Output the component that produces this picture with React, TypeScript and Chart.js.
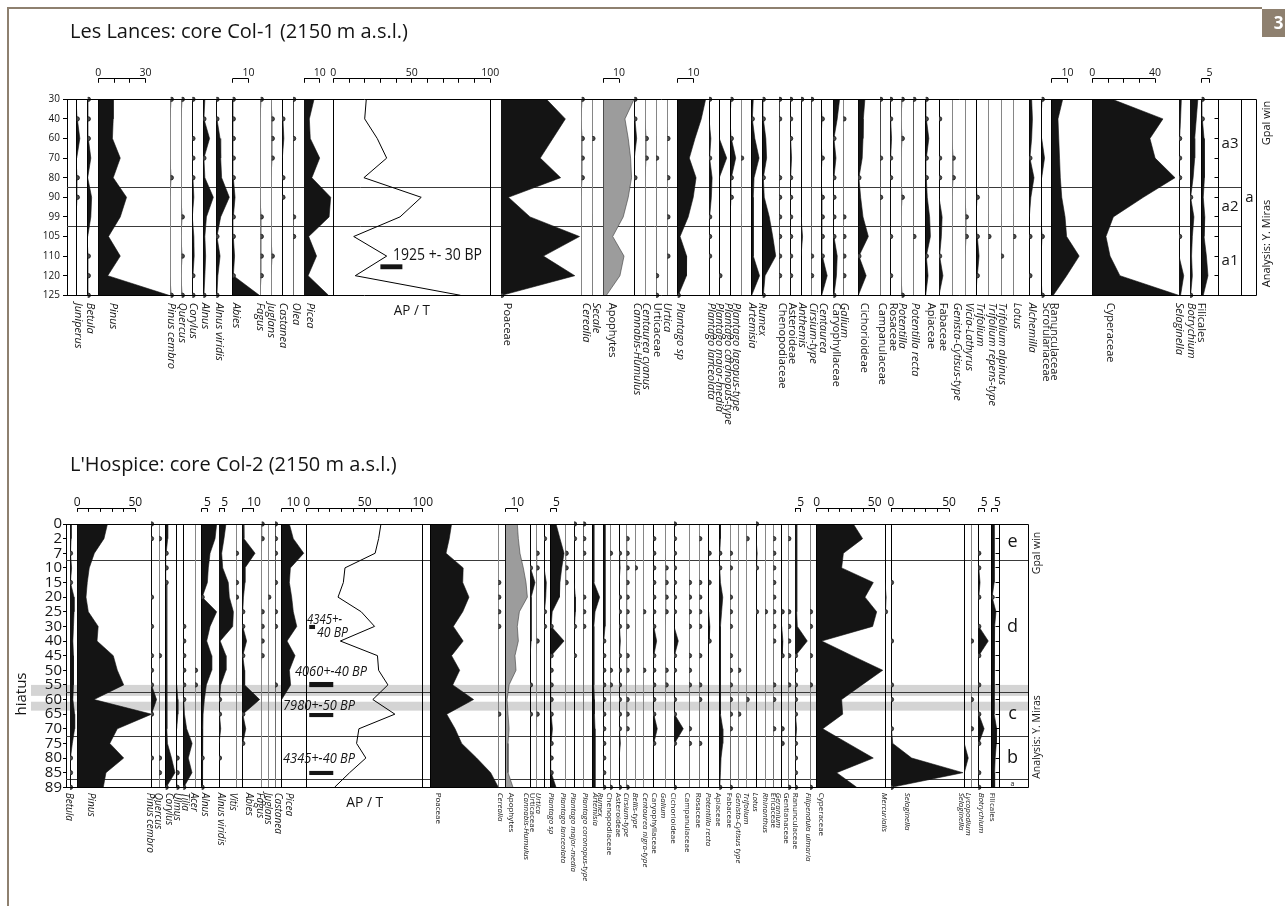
import React, { useEffect, useRef } from "react";
import { Chart, registerables } from "chart.js";

Chart.register(...registerables);

const tr = 0.4; // trace presence (drawn as a dot)

// ================= Les Lances: core Col-1 =================
const lancesDepths = ["30", "40", "60", "70", "80", "90", "99", "105", "110", "120", "125"];
const lancesTaxa = [
  "Juniperus", "Betula", "Pinus", "Pinus cembro", "Quercus", "Corylus", "Alnus", "Alnus viridis", "Abies",
  "Fagus", "Juglans", "Castanea", "Olea", "Picea", "AP / T", "Poaceae", "Cerealia", "Secale", "Apophytes",
  "Cannabis-Humulus", "Centaurea cyanus", "Urticaceae", "Urtica", "Plantago sp", "Plantago lanceolata",
  "Plantago major-media", "Plantago coronopus-type", "Plantago lagopus-type", "Artemisia", "Rumex",
  "Chenopodiaceae", "Asteroideae", "Anthemis", "Cirsium-type", "Centaurea", "Caryophyllaceae", "Galium",
  "Cichorioideae", "Campanulaceae", "Rosaceae", "Potentilla", "Potentilla recta", "Apiaceae", "Fabaceae",
  "Genista-Cytisus-type", "Vicia-Lathyrus", "Trifolium", "Trifolium repens-type", "Trifolium alpinus", "Lotus",
  "Alchemilla", "Scrofulariaceae", "Ranunculaceae", "Cyperaceae", "Selaginella", "Botrychium", "Filicales",
];
const lancesValues = [
  [0, tr, 2, 0, tr, tr, 0, 0, 0, 0, 0],
  [tr, tr, tr, 2, 0, 2.5, 2, 0, tr, tr, tr],
  [9.5, 9.5, 9, 14, 9.5, 18, 14, 6.5, 14, 6, 45],
  [tr, 0, 0, 0, tr, 0, 0, 0, 0, 0, tr],
  [tr, 0, 0, 0, 0, 0, tr, 0, tr, 0, tr],
  [tr, 0, tr, tr, tr, 1, 0, 1, 1.2, tr, tr],
  [1, tr, 4, tr, 1, 6.4, 2, 1, 1.5, 1, tr],
  [tr, tr, 2.4, 2.8, 3.4, 8.3, 2.8, tr, 2.4, 1, tr],
  [tr, tr, tr, tr, tr, 1.5, tr, tr, 1.2, tr, 17],
  [tr, 0, 0, 0, 0, 0, tr, tr, tr, tr, 0],
  [0, tr, tr, tr, 0, 0, 0, 0, tr, 0, 0],
  [0, tr, 1, 0, tr, tr, 0, 0, 0, 0, 0],
  [tr, 0, tr, 0, 0, 0, tr, tr, 0, 0, 0],
  [6.4, 3.4, 4, 10, 5, 17, 16, 3, 8, 2.6, 15.6],
  [21, 20, 28, 34, 19.5, 56, 42.5, 13, 34, 14, 81],
  [29, 41, 33, 25, 38, 4.7, 18.5, 50, 27, 47, 0.5],
  [tr, 0, tr, tr, tr, 0, 0, 0, 0, 0, 0],
  [0, 0, tr, 0, 0, 0, 0, 0, 0, 0, 0],
  [19.6, 13.8, 15.9, 17.4, 18, 15.9, 12.7, 6, 13.2, 10.6, 2],
  [tr, tr, 1.5, 0, tr, 0, 0, 0, 0, 0, 0],
  [0, 0, tr, tr, 0, 0, 0, 0, 0, 0, 0],
  [0, 0, 0, tr, 0, 0, 0, 0, 0, tr, tr],
  [0, 0, tr, 0, tr, 0, tr, 0, tr, 0, 0],
  [17.8, 15, 11, 7.4, 11.7, 9.9, 6.7, 1.5, 5.7, 5.6, tr],
  [tr, 0, 1.2, tr, 2, 1.5, tr, tr, tr, 0, 0],
  [0, 0, 0, 4.7, 0, 0, 0, 0, 0, tr, 0],
  [tr, 0, tr, 3.2, tr, tr, 0, 0, 0, 0, 0],
  [0, 0, 0, tr, 0, 0, 0, 0, 0, 0, 0],
  [1, tr, 2, 4.7, 1.5, 1, 1, 1, 1, 5, 0],
  [tr, tr, 2, 2.5, tr, 1, 4.2, 6.4, 8.3, 1.5, tr],
  [tr, tr, 0, 0, tr, tr, tr, tr, tr, tr, 0],
  [tr, tr, tr, 1, tr, tr, tr, tr, tr, tr, 0],
  [tr, 0, 0, 0, 0, 0, 0, 1, 0, 0, 0],
  [tr, 0, 0, 0, 0, 0, 0, 0, tr, tr, 0],
  [0, tr, 0, tr, 0, tr, tr, tr, tr, 3.5, 0],
  [4, 2.5, tr, 1.7, tr, tr, tr, tr, 2.5, 2, tr],
  [0, tr, 0, 0, 0, 0, tr, tr, tr, tr, 0],
  [4.2, 3.2, 3, 2.5, tr, 1.5, 3, 6.4, tr, 5, 0],
  [tr, 0, 0, tr, 0, tr, 0, 0, 0, 0, 0],
  [tr, tr, 1, tr, tr, 0, 0, tr, 0, tr, 0],
  [tr, 0, tr, 0, 0, tr, 0, 0, 0, 0, tr],
  [tr, 0, 0, 0, 0, 0, 0, tr, 0, 0, 0],
  [tr, tr, 2, tr, tr, 1, 2.5, 3, tr, 1.5, 0],
  [0, tr, 0, tr, tr, 0, 2, 1.5, tr, 2.5, 0],
  [0, 0, 0, tr, tr, 0, 0, 0, 0, 0, 0],
  [0, 0, 0, 0, 0, 0, tr, tr, 0, 0, 0],
  [0, 0, 0, 0, 0, tr, 0, tr, 1.5, tr, 0],
  [0, 0, 0, 0, 0, 0, 0, tr, 0, 0, 0],
  [0, 0, 0, 0, 0, 0, 0, 0, tr, 0, 0],
  [0, 0, 0, 0, 0, 0, 0, tr, 0, 0, 0],
  [1.5, 2, 1.5, tr, 3, 1, 0, tr, 0, tr, 0],
  [tr, 0, 0, 1.8, 0, 0, 0, tr, 0, 0, tr],
  [7, 4, 4.5, 5, 5.5, 6.4, 8.5, 9.5, 17.5, 9.5, 1],
  [12.7, 45, 36.7, 40, 52.7, 32.5, 13.4, 8.7, 11.3, 17.6, 55],
  [1.5, 1, tr, tr, tr, 0, 0, tr, 0, 3, 1],
  [5, 4, 3, 3, 2, tr, 2.5, 1.5, 1, 1.5, tr],
  [tr, tr, 1.5, 2, 1.5, 1, 2, 1.5, 3, 4, 1],
];
const lancesScaleBars = [
  { taxon: "Pinus", max: 30, step: 10, labels: [0, 30] },
  { taxon: "Abies", max: 10, step: 10, labels: [10] },
  { taxon: "Picea", max: 10, step: 10, labels: [10] },
  { taxon: "AP / T", max: 100, step: 10, labels: [0, 50, 100] },
  { taxon: "Apophytes", max: 10, step: 10, labels: [10] },
  { taxon: "Plantago sp", max: 10, step: 10, labels: [10] },
  { taxon: "Ranunculaceae", max: 10, step: 10, labels: [10] },
  { taxon: "Cyperaceae", max: 40, step: 10, labels: [0, 40] },
  { taxon: "Filicales", max: 5, step: 5, labels: [5] },
];
const lancesDates = [{ text: "1925 +- 30 BP", x: 38, y: 8.2, size: 16, width: 89, italic: false }];
const lancesDateBars = [{ x0: 30, x1: 44, y0: 8.42, y1: 8.67 }];
const lancesZoneBounds = [4.5, 6.5];
const lancesZoneNames = ["a3", "a2", "a1"];

// layout (column baselines / label positions, px)
const lancesColX = [
  76.7, 87.7, 98.3, 170.7, 181.7, 192.3, 203.3, 216.3, 232.7, 260.7, 271.7, 282.3, 293, 304, 333.3, 501,
  581.7, 592.3, 603.3, 634.3, 645.7, 656, 667.3, 677.7, 709, 719.3, 730.7, 741, 751.7, 762.7, 779, 790, 801,
  811, 821.7, 833.3, 843.3, 858.3, 880, 890, 901.7, 913.3, 925.7, 939, 952.7, 965.7, 976.7, 988.3, 1001,
  1013.3, 1029.3, 1041.7, 1051.7, 1092.3, 1179, 1190, 1201.7,
];
const lancesLabelX = [
  78.3, 90, 113, 171, 182.5, 192.7, 205, 218.7, 235.8, 260.3, 270.8, 283.5, 295.8, 310.5, 411, 507, 586, 596,
  612, 637, 646, 657, 667.5, 680, 711, 719.5, 728, 736.5, 752.5, 762, 782, 792, 802.5, 813, 823.5, 836, 844.5,
  864, 882, 893.5, 902.5, 915, 931, 943.5, 957, 969, 980, 992, 1002.5, 1017, 1032, 1046, 1054, 1110,
  1179.5, 1191, 1201.5,
];

// ================= L'Hospice: core Col-2 =================
const hospiceDepths = ["0", "2", "7", "10", "15", "20", "25", "30", "40", "45", "50", "55", "60", "65", "70", "75", "80", "85", "89"];
const hospiceTaxa = [
  "Betula", "Pinus", "Pinus cembro", "Quercus", "Corylus", "Ulmus", "Tilia", "Acer", "Alnus", "Alnus viridis",
  "Vitis", "Abies", "Fagus", "Juglans", "Castanea", "Picea", "AP / T", "Poaceae", "Cerealia", "Apophytes",
  "Cannabis-Humulus", "Urticaceae", "Urtica", "Plantago sp", "Plantago lanceolata", "Plantago major-media",
  "Plantago coronopus-type", "Artemisia", "Rumex", "Chenopodiaceae", "Asteroideae", "Cirsium-type",
  "Bellis-type", "Centaurea nigra-type", "Caryophyllaceae", "Galium", "Cichorioideae", "Campanulaceae",
  "Rosaceae", "Potentilla recta", "Apiaceae", "Fabaceae", "Genista-Cytisus type", "Trifolium", "Lotus",
  "Rhinanthus", "Ericaceae", "Geranium", "Gentianaceae", "Ranunculaceae", "Filipendula ulmaria", "Cyperaceae",
  "Mercurialis", "Selaginella", "Selaginella", "Lycopodium", "Botrychium", "Filicales",
];
const hospiceValues = [
  [1, 1, tr, 1.4, tr, 3.5, 3.5, 3, 2.5, 3, 3, 3, 2.5, 4, 4, 2, tr, tr, tr],
  [26, 23, 14.7, 10.3, 8.6, 7.5, 9.5, 18, 17, 31, 34.5, 40, 14.4, 64, 34.5, 28, 40, 24.7, 22.4],
  [tr, tr, 0, 0, 0, tr, 0, tr, 0, tr, tr, tr, 4.8, tr, 0, 0, tr, 0, 0],
  [0, tr, 0, 0, 0, 0, 0, 0, 0, tr, 0, 0, 0, 0, 0, 0, tr, tr, 0],
  [1.7, 1.7, tr, tr, tr, 1, 1, 1, 1, 1, 1, 1, 1, 1, 1, 1.5, 5, 8, tr],
  [0, 0, 0, 0, 0, 0, 0, 0, 0, 0, 0, 0, 1, 1, 0, 0, tr, tr, tr],
  [0, 0, 0, 0, 0, 0, 0, tr, tr, tr, tr, tr, tr, 1, 2.9, 7.6, 4.3, 7.5, tr],
  [0, 0, 0, 0, 0, 0, 0, 0, 0, 0, tr, tr, 0, 0, 0, 0, 0, 0, 0],
  [12.9, 11.5, 7.2, 5.7, 4.9, tr, 12.9, 7.2, 4.3, 8.6, 8.6, 4, 2.3, 1.2, 1, 1, tr, 1, tr],
  [6, 4.3, 2.3, 3.2, 8, 8.9, 12.4, 11.8, 1, 6, 6, 1.5, tr, tr, 1.5, 0, tr, 0, 0],
  [0, 0, tr, 0, tr, tr, 0, 0, 0, 0, 0, 0, 0, 0, 0, 0, 0, 0, 0],
  [1, 1.4, 11, 2.3, 2.3, 1, tr, tr, 3.7, tr, 2, 2, 15, tr, 3, tr, 0, 0, 0],
  [tr, tr, 0, 0, 0, 0, tr, tr, tr, tr, 0, 0, 0, 0, 0, 0, 0, 0, 0],
  [0, 0, 0, 0, 0, tr, 0, 0, 0, 0, 0, 0, 0, 0, 0, 0, 0, 0, 0],
  [tr, tr, tr, 0, tr, 0, tr, tr, 0, 0, 0, tr, 0, 0, 0, 0, 0, 0, 0],
  [6.6, 10, 19, 7.5, 6.6, 8.6, 10, 13, 4.6, 11.5, 6.6, 7.7, 0, 0, 0, 0, 0, 0, 0],
  [64, 62, 59, 33, 31.6, 27, 47, 58.5, 29, 61, 62, 70, 57, 76, 45, 43, 51, 37, 24],
  [18, 16, 13.2, 28, 27.6, 33, 27.6, 19.5, 28, 18, 25, 19, 37, 13.8, 21, 26.7, 39.6, 51.7, 58.3],
  [0, 0, 0, 0, tr, tr, tr, tr, 0, 0, 0, 0, 0, tr, 0, 0, 0, 0, 0],
  [10, 10.9, 12.3, 15.2, 17.5, 18.7, 11.8, 10, 10.9, 8, 8.9, 2.9, 1.2, 2, 2.9, 2, 2, 2, 6.3],
  [0, 0, 0, tr, 4.3, 1, 1, 1, 1, 0, 0, tr, 0, tr, 0, 0, 0, 0, 0],
  [0, 0, tr, tr, 0, 0, 0, 0, tr, 0, 0, 0, 0, tr, 0, 0, 0, 0, 0],
  [0, tr, 0, 0, 2, 1.5, tr, tr, 0, 0, 0, 0, 0, 0, 0, 0, 0, 0, 0],
  [4.6, 8, 11.5, 9.5, 8, 7.5, 1.3, tr, 11.5, tr, tr, tr, tr, tr, 1.5, tr, tr, tr, 4.6],
  [0, 0, tr, tr, tr, 0, 0, 0, 0, 0, 0, 0, 0, 0, 0, 0, 0, 0, 0],
  [tr, tr, 0, 0, 0, 1.2, 1.2, tr, 0, tr, 0, 0, 0, 0, 0, 0, 0, 0, 0],
  [tr, tr, tr, 0, 0, tr, tr, tr, 0, 0, 0, 0, 0, 0, 0, 0, 0, 0, 0],
  [1, 1, 1, 1, 1, 6, 2, 1, 1, 1, 1, 1, 1.5, 1.5, 2, 2, 2, 2, 2],
  [1.5, 1.5, 1.5, 1.5, 1.5, 1.5, 1.5, 1.5, tr, tr, tr, tr, tr, tr, tr, tr, tr, tr, tr],
  [0, 0, tr, 0, 0, 0, 0, 0, 0, 0, tr, tr, 0, 0, 0, 0, 0, 0, tr],
  [0, 0, tr, 1, 0, tr, tr, tr, 1.2, tr, tr, tr, tr, tr, tr, 1.2, 0, 0, tr],
  [0, tr, tr, tr, tr, tr, tr, tr, 0, tr, tr, 0, tr, tr, tr, 0, 0, 0, tr],
  [0, 0, 0, tr, 0, 0, 0, 0, 0, 0, 0, 0, 0, 0, 0, 0, 0, 0, 0],
  [0, 0, 0, 0, 0, 0, tr, 0, 0, 0, tr, 0, 0, 0, 0, 0, 0, 0, 0],
  [0, tr, tr, tr, tr, tr, tr, tr, 2.9, tr, tr, tr, tr, tr, 3.4, tr, 0, 0, 0],
  [0, 0, 0, tr, tr, tr, tr, 0, 0, 0, tr, tr, 0, 0, 0, 0, 0, 0, 0],
  [tr, tr, tr, tr, tr, tr, tr, 0, 3.7, tr, tr, 0, tr, tr, 8, tr, 0, 0, tr],
  [0, 0, 0, 0, tr, tr, tr, tr, 0, tr, tr, tr, 0, 0, tr, tr, 0, 0, 0],
  [0, tr, 0, 0, tr, tr, tr, tr, 0, tr, 0, tr, tr, 0, 0, tr, 0, 0, 0],
  [0, 0, tr, 0, tr, 0, 0, 1, tr, 0, 0, 0, 0, 0, 0, 0, 0, 0, 0],
  [1, 1, tr, tr, 1, 3, 2, 1, 1, 1, 1, 1, 1, 1, 3, 3, 1.5, 1, tr],
  [0, 0, tr, tr, 0, tr, tr, tr, 0, tr, tr, tr, tr, tr, tr, 0, 0, 0, tr],
  [0, 0, 0, 0, 0, 0, 0, 0, 0, 0, tr, 0, 0, tr, 0, 0, 0, 0, 0],
  [0, tr, 0, 0, 0, 0, 0, 0, 0, 0, 0, 0, tr, 0, 0, 0, 0, 0, 0],
  [tr, 0, 1, tr, 0, 0, tr, 0, 0, 0, 0, 0, 0, 0, 0, 0, 0, 0, 0],
  [0, 0, 0, 0, 0, 0, tr, 0, 0, 0, 0, 0, 0, 0, 0, 0, 0, 0, 0],
  [0, tr, tr, tr, tr, tr, tr, tr, tr, 0, 0, tr, tr, 0, tr, 0, 0, 0, 0],
  [0, 0, 0, 0, 0, 0, tr, 0, 1, tr, 0, 0, 0, 0, tr, tr, 0, 0, 0],
  [0, tr, 0, 0, 0, 0, tr, tr, tr, tr, 0, tr, 0, 0, 0, 0, 0, 0, tr],
  [1.5, 1.5, 1.5, 1.5, 1.5, 1.5, 1.5, 2, 10.6, tr, tr, tr, tr, tr, 1.4, tr, tr, tr, tr],
  [0, 0, 0, 0, 0, 0, tr, tr, 0, tr, 0, tr, 0, 0, 0, 0, 0, 0, tr],
  [31.6, 39.6, 23, 21.5, 48.8, 41.6, 51.7, 48.2, 4.3, 30.4, 56.9, 39, 21.5, 22.4, 5.2, 27, 48.8, 17.2, 34.5],
  [0, 0, 0, 0, 0, 1, tr, 0, 0, 0, 0, 0, 0, 0, 0, 0, 0, 0, 0],
  [0, 0, 0, 0, tr, 0, 0, 0, tr, 0, 0, tr, tr, 0, tr, 1.5, 17.8, 62, tr],
  [0, 0, 0, 0, 0, 0, 0, 0, 0, 0, 0, 0, 0, 0, 0, 0, 3.4, 0, 0],
  [0, 0, 0, 0, 0, 0, 0, 0, tr, 0, 0, 0, tr, 0, tr, 0, 0, 0, 0],
  [0, 0, tr, tr, 1.5, tr, 0, tr, 8.6, tr, 0, tr, 0, tr, 5, tr, 0, tr, tr],
  [2, 2, 2, 2, 2.5, tr, 3.7, 2.5, 2, 2, 2, 2, 2, 2.5, 4.3, 4, 3, 2.5, 2.5],
];
const hospiceScaleBars = [
  { taxon: "Pinus", max: 50, step: 10, labels: [0, 50] },
  { taxon: "Alnus", max: 5, step: 5, labels: [5] },
  { taxon: "Alnus viridis", max: 5, step: 5, labels: [5] },
  { taxon: "Abies", max: 10, step: 10, labels: [10] },
  { taxon: "Picea", max: 10, step: 10, labels: [10] },
  { taxon: "AP / T", max: 100, step: 10, labels: [0, 50, 100] },
  { taxon: "Apophytes", max: 10, step: 10, labels: [10] },
  { taxon: "Plantago sp", max: 5, step: 5, labels: [5] },
  { taxon: "Ranunculaceae", max: 5, step: 5, labels: [5] },
  { taxon: "Cyperaceae", max: 50, step: 10, labels: [0, 50] },
  { taxon: "Selaginella", max: 50, step: 10, labels: [0, 50] },
  { taxon: "Botrychium", max: 5, step: 5, labels: [5] },
  { taxon: "Filicales", max: 5, step: 5, labels: [5] },
];
const hospiceDates = [
  { text: "4345+-", x: 0.3, y: 6.84, size: 15, width: 35, italic: true },
  { text: "40 BP", x: 8.9, y: 7.72, size: 15, width: 31, italic: true },
  { text: "4060+-40 BP", x: -10.1, y: 10.39, size: 15, width: 72, italic: true },
  { text: "7980+-50 BP", x: -20.4, y: 12.71, size: 15, width: 72, italic: true },
  { text: "4345+-40 BP", x: -20.4, y: 16.34, size: 15, width: 72, italic: true },
];
const hospiceDateBars = [
  { x0: 2.2, x1: 7.2, y0: 6.9, y1: 7.18 },
  { x0: 2.2, x1: 22.9, y0: 10.8, y1: 11.15 },
  { x0: 2.2, x1: 22.9, y0: 12.92, y1: 13.2 },
  { x0: 2.2, x1: 22.9, y0: 16.88, y1: 17.16 },
];
const hospiceZoneBounds = [2.5, 11.5, 14.5, 17.5];
const hospiceZoneNames = ["e", "d", "c", "b", "a"];
const hospiceHiatus = [[11.0, 11.75], [12.15, 12.76]];

const hospiceColX = [
  70, 77.3, 151, 159, 165.7, 176.7, 183.3, 195, 201.7, 219, 236, 242.3, 261.7, 268.3, 275, 281.7, 306.7, 430.7,
  498.3, 505.7, 530, 536.7, 544, 550.7, 565.7, 574, 583.3, 592.7, 603.3, 610, 619, 626.7, 635, 643.3, 653.3,
  665.7, 674, 689, 699.3, 708.7, 719.3, 730, 738.3, 746.7, 756, 765, 773.3, 781.7, 788.3, 795, 810, 816.7,
  885, 891, 964.3, 971, 978.3, 991.7,
];
const hospiceLabelX = [
  68.5, 90.8, 150, 158.3, 168.8, 177, 185, 194.3, 205, 220.8, 233.3, 248.8, 260, 268, 277.5, 289.2, 362, 438,
  500, 511.7, 526, 532, 538, 551.7, 563, 573, 585, 595, 600.5, 609, 618, 626.7, 635, 645, 654, 663, 673,
  687, 698, 708, 718, 729, 738, 746.7, 755, 765, 773, 778.5, 786.7, 795, 808, 821, 884, 907, 961, 968, 981, 992,
];

// ================= drawing =================
const PAGE_W = 1285;
const FONT = '"Open Sans", "Noto Sans", "DejaVu Sans", sans-serif';
const FRAME = "#8e806f";
const INK = "#141414";

const crisp = (v: number) => Math.round(v - 0.5) + 0.5;
const isUpright = (name: string) => /(aceae|oideae|ales)$/.test(name) || name === "Apophytes";

function makeOverlay(cfg: any) {
  const colScale = (chart: any, name: string) => chart.scales["x" + cfg.taxa.indexOf(name)];
  return {
    id: "pollenOverlay",
    beforeDraw(chart: any) {
      const ctx = chart.ctx;
      const ys = chart.scales.y;
      ctx.save();
      ctx.strokeStyle = FRAME;
      ctx.lineWidth = 2;
      ctx.beginPath();
      ctx.moveTo(8, cfg.frameStartY);
      ctx.lineTo(8, chart.height);
      if (cfg.pageHeader) {
        ctx.moveTo(7, 8);
        ctx.lineTo(1262, 8);
      }
      ctx.stroke();
      if (cfg.pageHeader) {
        ctx.fillStyle = FRAME;
        ctx.fillRect(1262, 9, 23, 28);
        ctx.fillStyle = "#fff";
        ctx.font = `bold 17px ${FONT}`;
        ctx.textAlign = "center";
        ctx.textBaseline = "middle";
        ctx.fillText("3", 1278.5, 24);
      }
      ctx.fillStyle = INK;
      ctx.font = `${cfg.title.size}px ${FONT}`;
      ctx.textAlign = "left";
      ctx.textBaseline = "alphabetic";
      ctx.fillText(cfg.title.text, cfg.title.x, cfg.title.y, cfg.title.width);
      ctx.fillStyle = "#d4d4d4";
      for (const [b0, b1] of cfg.bands) {
        const y0 = ys.getPixelForValue(b0);
        const y1 = ys.getPixelForValue(b1);
        ctx.fillRect(cfg.bandLeft, y0, cfg.borderX - cfg.bandLeft, y1 - y0);
      }
      ctx.restore();
    },
    beforeDatasetsDraw(chart: any) {
      const ctx = chart.ctx;
      const a = chart.chartArea;
      const ys = chart.scales.y;
      ctx.save();
      ctx.lineWidth = 1;
      ctx.strokeStyle = "#3a3a3a";
      ctx.beginPath();
      for (const b of cfg.zoneBounds) {
        const y = crisp(ys.getPixelForValue(b));
        ctx.moveTo(a.left, y);
        ctx.lineTo(cfg.zoneLineEnd, y);
      }
      ctx.stroke();
      cfg.taxa.forEach((name: string, i: number) => {
        const sc = chart.scales["x" + i];
        const solid = cfg.values[i].some((v: number) => v >= 1);
        ctx.strokeStyle = solid ? "#000" : "#868686";
        ctx.beginPath();
        const x = crisp(sc.getPixelForValue(0));
        ctx.moveTo(x, a.top);
        ctx.lineTo(x, a.bottom);
        if (name === "AP / T") {
          const x2 = crisp(sc.getPixelForValue(100));
          ctx.moveTo(x2, a.top);
          ctx.lineTo(x2, a.bottom);
        }
        ctx.stroke();
      });
      ctx.restore();
    },
    afterDraw(chart: any) {
      const ctx = chart.ctx;
      const a = chart.chartArea;
      const ys = chart.scales.y;
      const n = cfg.depths.length;
      ctx.save();
      // frame + zone column
      ctx.strokeStyle = "#000";
      ctx.lineWidth = 1;
      const yt = crisp(a.top);
      const yb = crisp(a.bottom);
      const xr = crisp(cfg.borderX);
      const xz = crisp(a.right);
      ctx.beginPath();
      ctx.moveTo(a.left, yt);
      ctx.lineTo(xr, yt);
      ctx.moveTo(a.left, yb);
      ctx.lineTo(xr, yb);
      ctx.moveTo(xr, yt);
      ctx.lineTo(xr, yb);
      ctx.moveTo(xz, yt);
      ctx.lineTo(xz, yb);
      if (cfg.zoneColX) {
        const xc = crisp(cfg.zoneColX);
        ctx.moveTo(xc, yt);
        ctx.lineTo(xc, yb);
      }
      for (let i = 0; i < n; i++) {
        const y = crisp(ys.getPixelForValue(i));
        ctx.moveTo(xz - 4, y);
        ctx.lineTo(xz, y);
      }
      ctx.stroke();

      // zone labels
      ctx.fillStyle = INK;
      ctx.textAlign = "center";
      ctx.textBaseline = "middle";
      const bounds = [0, ...cfg.zoneBounds, n - 1];
      cfg.zoneNames.forEach((z: string, k: number) => {
        const mid = (bounds[k] + bounds[k + 1]) / 2;
        const size = cfg.zoneSmall.includes(k) ? 7 : cfg.zoneFont;
        ctx.font = `${size}px ${FONT}`;
        ctx.fillText(z, cfg.zoneLabelX, ys.getPixelForValue(mid));
      });
      if (cfg.outerZone) {
        ctx.font = `${cfg.zoneFont}px ${FONT}`;
        ctx.fillText(cfg.outerZone.text, cfg.outerZone.x, ys.getPixelForValue((n - 1) / 2));
      }

      // side texts
      ctx.font = `${cfg.side.size}px ${FONT}`;
      const side = (text: string, y: number, w: number) => {
        ctx.save();
        ctx.translate(cfg.side.x, y);
        ctx.rotate(-Math.PI / 2);
        ctx.fillText(text, 0, 0, w);
        ctx.restore();
      };
      side("Gpal win", cfg.side.gpalY, cfg.side.gpalW);
      side("Analysis: Y. Miras", cfg.side.analysisY, cfg.side.analysisW);
      if (cfg.hiatus) {
        ctx.font = `${cfg.hiatus.size}px ${FONT}`;
        ctx.save();
        ctx.translate(cfg.hiatus.x, cfg.hiatus.y);
        ctx.rotate(-Math.PI / 2);
        ctx.fillText("hiatus", 0, 0);
        ctx.restore();
      }

      // taxon labels
      ctx.textAlign = "left";
      ctx.textBaseline = "middle";
      cfg.taxa.forEach((name: string, i: number) => {
        if (name === "AP / T") return;
        const size = i < cfg.bigLabelCount ? cfg.labelFont : cfg.labelFontSmall;
        ctx.font = `${isUpright(name) ? "" : "italic "}${size}px ${FONT}`;
        ctx.save();
        ctx.translate(cfg.labelX[i], a.bottom + cfg.labelGap);
        ctx.rotate(Math.PI / 2);
        ctx.fillText(name, 0, 0);
        ctx.restore();
      });
      const ap = colScale(chart, "AP / T");
      ctx.textAlign = "center";
      ctx.font = `${cfg.apt.size}px ${FONT}`;
      ctx.fillText("AP / T", (ap.getPixelForValue(0) + ap.getPixelForValue(100)) / 2, cfg.apt.y, cfg.apt.width);

      // scale bars
      ctx.strokeStyle = "#000";
      ctx.lineWidth = 1;
      ctx.font = `${cfg.barFont}px ${FONT}`;
      ctx.textBaseline = "alphabetic";
      const by = crisp(cfg.barLineY);
      for (const b of cfg.bars) {
        const sc = colScale(chart, b.taxon);
        ctx.beginPath();
        ctx.moveTo(sc.getPixelForValue(0), by);
        ctx.lineTo(sc.getPixelForValue(b.max), by);
        for (let v = 0; v <= b.max + 1e-6; v += b.step) {
          const x = crisp(sc.getPixelForValue(v));
          ctx.moveTo(x, by);
          ctx.lineTo(x, by + cfg.barTick);
        }
        ctx.stroke();
        for (const l of b.labels) ctx.fillText(String(l), sc.getPixelForValue(l), cfg.barLabelY);
      }

      // radiocarbon dates
      ctx.textAlign = "left";
      for (const d of cfg.dates) {
        ctx.font = `${d.italic ? "italic " : ""}${d.size}px ${FONT}`;
        ctx.fillText(d.text, ap.getPixelForValue(d.x), ys.getPixelForValue(d.y), d.width);
      }
      for (const r of cfg.dateBars) {
        const x0 = ap.getPixelForValue(r.x0);
        const x1 = ap.getPixelForValue(r.x1);
        const y0 = ys.getPixelForValue(r.y0);
        const y1 = ys.getPixelForValue(r.y1);
        ctx.fillRect(x0, y0, x1 - x0, y1 - y0);
      }
      ctx.restore();
    },
  };
}

function buildChart(canvas: HTMLCanvasElement, cfg: any) {
  const Y_AXIS_W = 30;
  const scales: any = {
    y: {
      type: "category",
      position: "left",
      offset: false,
      weight: 0,
      grid: { display: true, drawOnChartArea: false, drawTicks: true, tickLength: cfg.tickLen, color: "#000", lineWidth: 1 },
      border: { display: true, color: "#000", width: 1 },
      ticks: { autoSkip: false, maxRotation: 0, color: INK, padding: cfg.tickPad, font: { family: FONT, size: cfg.depthFont } },
      afterFit: (s: any) => {
        s.width = Y_AXIS_W;
      },
    },
    xpad: {
      type: "linear",
      display: false,
      position: "bottom",
      stack: "cols",
      stackWeight: cfg.colX[0] - cfg.left,
      weight: 0,
      min: 0,
      max: 1,
    },
  };
  cfg.taxa.forEach((_: string, i: number) => {
    const next = i + 1 < cfg.taxa.length ? cfg.colX[i + 1] : cfg.right;
    const w = next - cfg.colX[i];
    scales["x" + i] = {
      type: "linear",
      display: false,
      position: "bottom",
      stack: "cols",
      stackWeight: w,
      weight: i + 1,
      min: 0,
      max: w / cfg.ppp,
    };
  });

  const datasets = cfg.taxa.map((name: string, i: number) => {
    const isLine = name === "AP / T";
    const isGray = name === "Apophytes";
    const edge = isLine ? "#000" : isGray ? "#3c3c3c" : INK;
    return {
      type: "line",
      label: name,
      data: cfg.values[i],
      xAxisID: "x" + i,
      yAxisID: "y",
      indexAxis: "y",
      fill: isLine ? false : "origin",
      backgroundColor: isGray ? "#9c9c9c" : INK,
      borderColor: edge,
      borderWidth: isLine ? 1 : 0.6,
      tension: 0,
      segment: {
        borderColor: (c: any) =>
          !isLine && c.p0.parsed.x < 1 && c.p1.parsed.x < 1 ? "rgba(0,0,0,0)" : edge,
      },
      pointRadius: (c: any) => (!isLine && c.raw > 0 && c.raw < 1 ? 2.2 : 0),
      pointHoverRadius: 0,
      pointBackgroundColor: "#4a4a4a",
      pointBorderColor: "#111",
      pointBorderWidth: 0.7,
    };
  });

  return new Chart(canvas, {
    type: "line",
    data: { labels: cfg.depths, datasets },
    options: {
      indexAxis: "y",
      responsive: false,
      animation: false,
      events: [],
      layout: {
        padding: {
          left: cfg.left - Y_AXIS_W,
          right: PAGE_W - cfg.right,
          top: cfg.top,
          bottom: cfg.height - cfg.bottom,
        },
      },
      plugins: { legend: { display: false }, tooltip: { enabled: false }, title: { display: false } },
      scales,
    },
    plugins: [makeOverlay(cfg)],
  } as any);
}

const lancesCfg = {
  depths: lancesDepths, taxa: lancesTaxa, values: lancesValues, colX: lancesColX, labelX: lancesLabelX,
  bars: lancesScaleBars, dates: lancesDates, dateBars: lancesDateBars,
  canvasTop: 0, height: 450, left: 67, right: 1218.3, top: 99.3, bottom: 295.3, ppp: 1.57,
  depthFont: 10, tickLen: 4, tickPad: 3,
  zoneBounds: lancesZoneBounds, zoneNames: lancesZoneNames, zoneFont: 15, zoneLabelX: 1230, zoneSmall: [],
  zoneLineEnd: 1241.7, zoneColX: 1241.7, borderX: 1256.7, outerZone: { text: "a", x: 1249.5 },
  side: { x: 1267, gpalY: 123, analysisY: 243.5, size: 11, gpalW: 47, analysisW: 97 },
  labelFont: 11, labelFontSmall: 11, bigLabelCount: 999, labelGap: 7.5,
  barLineY: 78.7, barTick: 4.3, barLabelY: 75.5, barFont: 10.5,
  apt: { y: 311, size: 15, width: 36 },
  title: { text: "Les Lances: core Col-1 (2150 m a.s.l.)", x: 70, y: 38, size: 20, width: 379 },
  pageHeader: true, frameStartY: 7, bands: [], bandLeft: 0, hiatus: null,
};

const hospiceCfg = {
  depths: hospiceDepths, taxa: hospiceTaxa, values: hospiceValues, colX: hospiceColX, labelX: hospiceLabelX,
  bars: hospiceScaleBars, dates: hospiceDates, dateBars: hospiceDateBars,
  canvasTop: 450, height: 456, left: 66, right: 999, top: 74, bottom: 337.3, ppp: 1.16,
  depthFont: 15, tickLen: 3, tickPad: 1,
  zoneBounds: hospiceZoneBounds, zoneNames: hospiceZoneNames, zoneFont: 18, zoneLabelX: 1012.5, zoneSmall: [4],
  zoneLineEnd: 1028.3, zoneColX: null, borderX: 1028.3, outerZone: null,
  side: { x: 1037, gpalY: 103, analysisY: 287, size: 10.5, gpalW: 44, analysisW: 88 },
  labelFont: 10, labelFontSmall: 8, bigLabelCount: 16, labelGap: 5.4,
  barLineY: 58.3, barTick: 3.4, barLabelY: 55.5, barFont: 12,
  apt: { y: 353, size: 15, width: 37 },
  title: { text: "L'Hospice: core Col-2 (2150 m a.s.l.)", x: 70, y: 21, size: 20, width: 377 },
  pageHeader: false, frameStartY: 0, bands: hospiceHiatus, bandLeft: 31, hiatus: { x: 22, y: 244, size: 15 },
};

function PollenDiagram({ cfg }: { cfg: any }) {
  const ref = useRef<HTMLCanvasElement | null>(null);
  useEffect(() => {
    if (!ref.current) return;
    const chart = buildChart(ref.current, cfg);
    return () => chart.destroy();
  }, [cfg]);
  return (
    <canvas
      ref={ref}
      width={PAGE_W}
      height={cfg.height}
      style={{ position: "absolute", left: 0, top: cfg.canvasTop, width: PAGE_W, height: cfg.height, display: "block" }}
    />
  );
}

export default function App() {
  return (
    <div style={{ position: "absolute", left: 0, top: 0, width: PAGE_W, height: 906, background: "#fff", overflow: "hidden" }}>
      <PollenDiagram cfg={lancesCfg} />
      <PollenDiagram cfg={hospiceCfg} />
    </div>
  );
}
